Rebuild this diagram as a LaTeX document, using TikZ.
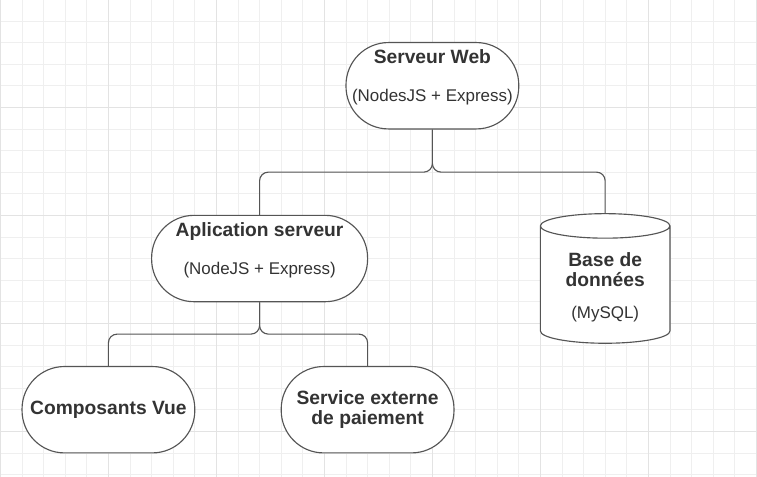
\documentclass[tikz,border=0pt]{standalone}
\usepackage{fontspec}
\setmainfont{Liberation Sans}
\usetikzlibrary{shapes.geometric}
\definecolor{ink}{HTML}{333333}
\definecolor{edge}{HTML}{555555}
\definecolor{gridlo}{HTML}{EFEFEF}
\definecolor{gridhi}{HTML}{E3E3E3}
\newcommand{\bt}{\fontsize{15.2}{18}\selectfont\bfseries}
\newcommand{\rt}{\fontsize{13.4}{16}\selectfont}

\begin{document}
\begin{tikzpicture}[x=0.6cm,y=0.6cm,
	box/.style={draw=edge,line width=0.9pt,fill=white,rounded corners=1.18cm,minimum width=4.8cm,minimum height=2.4cm,align=center,text=ink,font=\rt},
	link/.style={draw=edge,line width=0.9pt,rounded corners=0.24cm}]
\useasboundingbox (-0.02,-0.07) rectangle (35.03,21.97);
\clip (-0.02,-0.07) rectangle (35.03,21.97);
% grid
\draw[gridlo,line width=0.6pt,step=1] (-1,-1) grid (36,23);
\foreach \x in {0,5,...,35} \draw[gridhi,line width=0.7pt] (\x,-1) -- (\x,23);
\foreach \y in {2,7,12,17} \draw[gridhi,line width=0.7pt] (-1,\y) -- (36,\y);

\node (web) at (20,18) [box] {{\bt Serveur Web}\\[14pt](NodesJS + Express)\\[0pt]\mbox{}};
\node (app) at (12,10) [box,minimum width=6cm] {{\bt Aplication serveur}\\[14pt](NodeJS + Express)\\[0pt]\mbox{}};
\node (db) at (28,8.68) [cylinder,shape border rotate=90,draw=edge,line width=0.9pt,fill=white,aspect=0.28,minimum width=3.6cm,minimum height=3.6cm,align=center,text=ink,font=\rt] {{\bt Base de}\\{\bt données}\\[9pt](MySQL)};
\node (vue) at (5,3) [box] {\bt Composants Vue};
\node (pay) at (17,3) [box] {{\bt Service externe}\\{\bt de paiement}};

\coordinate (j1) at (20,14);
\coordinate (j2) at (12,6.5);
\draw [link] (web.south) -- (j1) -| (app.north);
\draw [link] (web.south) -- (j1) -| (db.north);
\draw [link] (app.south) -- (j2) -| (vue.north);
\draw [link] (app.south) -- (j2) -| (pay.north);
\end{tikzpicture}
\end{document}
